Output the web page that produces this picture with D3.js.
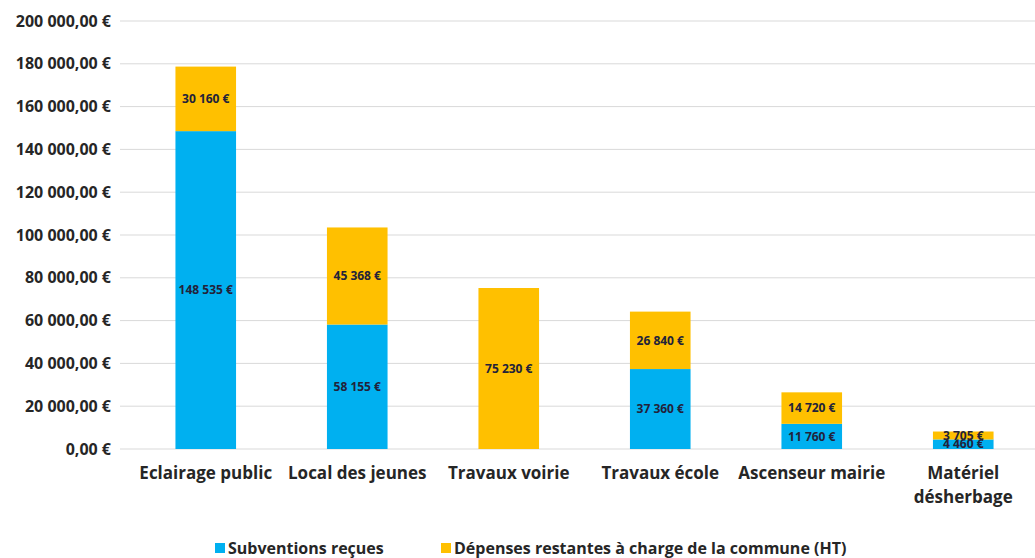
<!DOCTYPE html>
<html>
<head>
<meta charset="utf-8">
<script src="https://cdn.jsdelivr.net/npm/d3@7"></script>
<style>
  body { margin: 0; background: #fff; }
  text { font-family: "Open Sans", sans-serif; font-weight: bold; fill: #262626; }
</style>
</head>
<body>
<svg class="chart" width="1035" height="558"></svg>
<script>
// data
var categories = ['Eclairage public', 'Local des jeunes', 'Travaux voirie', 'Travaux école', 'Ascenseur mairie', 'Matériel|désherbage'];
var subventions = [148535, 58155, 0, 37360, 11760, 4460];
var depenses = [30160, 45368, 75230, 26840, 14720, 3705];
var yTicks = [0, 20000, 40000, 60000, 80000, 100000, 120000, 140000, 160000, 180000, 200000];
var seriesNames = ['Subventions reçues', 'Dépenses restantes à charge de la commune (HT)'];
var colors = ['#00B0F0', '#FFC000'];

var svg = d3.select('svg.chart');
var padding = {t: 21, r: 0, b: 109, l: 130};
var chartWidth = 1035 - padding.l - padding.r + 4;
var chartHeight = 558 - padding.t - padding.b;

var xScale = d3.scaleBand().domain(categories).range([0, chartWidth]).paddingInner(0.6).paddingOuter(0.3);
var yScale = d3.scaleLinear().domain([0, 200000]).range([chartHeight, 0]);

var chartG = svg.append('g')
  .attr('transform', 'translate(' + [padding.l, padding.t] + ')');

// french formatting: 200 000,00 €
var fmt = d3.formatLocale({decimal: ',', thousands: '\u00a0', grouping: [3], currency: ['', ' €']});
var tickFmt = function(d) { return fmt.format(',.2f')(d) + ' €'; };
var labelFmt = function(d) { return fmt.format(',')(d) + ' €'; };

// gridlines
chartG.selectAll('line.grid')
  .data(yTicks)
  .enter()
  .append('line')
  .attr('class', 'grid')
  .attr('x1', -10).attr('x2', chartWidth)
  .attr('y1', function(d) { return yScale(d); })
  .attr('y2', function(d) { return yScale(d); })
  .attr('stroke', '#d9d9d9')
  .attr('stroke-width', 1);

// y tick labels
chartG.selectAll('text.ytick')
  .data(yTicks)
  .enter()
  .append('text')
  .attr('class', 'ytick')
  .attr('x', -19)
  .attr('y', function(d) { return yScale(d); })
  .attr('dy', '0.35em')
  .attr('text-anchor', 'end')
  .style('font-size', '16px')
  .text(tickFmt);

// stacked bars
var rows = categories.map(function(c, i) {
  return {cat: c, s: subventions[i], d: depenses[i]};
});
var stack = d3.stack().keys(['s', 'd'])(rows);

var layers = chartG.selectAll('g.layer')
  .data(stack)
  .enter()
  .append('g')
  .attr('class', 'layer')
  .attr('fill', function(d, i) { return colors[i]; });

layers.selectAll('rect')
  .data(function(d) { return d; })
  .enter()
  .append('rect')
  .attr('x', function(d) { return xScale(d.data.cat); })
  .attr('width', xScale.bandwidth())
  .attr('y', function(d) { return yScale(d[1]); })
  .attr('height', function(d) { return yScale(d[0]) - yScale(d[1]); });

// data labels
layers.selectAll('text')
  .data(function(d) { return d.filter(function(p) { return p[1] - p[0] > 0; }); })
  .enter()
  .append('text')
  .attr('x', function(d) { return xScale(d.data.cat) + xScale.bandwidth() / 2; })
  .attr('y', function(d) { return (yScale(d[0]) + yScale(d[1])) / 2; })
  .attr('dy', '0.35em')
  .attr('text-anchor', 'middle')
  .style('font-size', '12px')
  .style('fill', '#22223a')
  .text(function(d) { return labelFmt(d[1] - d[0]); });

// category labels
var catText = chartG.selectAll('text.cat')
  .data(categories)
  .enter()
  .append('text')
  .attr('class', 'cat')
  .attr('x', function(d) { return xScale(d) + xScale.bandwidth() / 2; })
  .attr('y', chartHeight + 30)
  .attr('text-anchor', 'middle')
  .style('font-size', '17px');
catText.selectAll('tspan')
  .data(function(d) { return d.split('|'); })
  .enter()
  .append('tspan')
  .attr('x', function() { var p = d3.select(this.parentNode).datum(); return xScale(p) + xScale.bandwidth() / 2; })
  .attr('dy', function(d, i) { return i ? '1.4em' : 0; })
  .text(function(d) { return d; });

// legend
var legendX = [215, 441];
var legend = svg.selectAll('g.legend')
  .data(seriesNames)
  .enter()
  .append('g')
  .attr('class', 'legend')
  .attr('transform', function(d, i) { return 'translate(' + legendX[i] + ',548)'; });
legend.append('rect')
  .attr('x', 0).attr('y', -5).attr('width', 10).attr('height', 10)
  .attr('fill', function(d, i) { return colors[i]; });
legend.append('text')
  .attr('x', 13).attr('dy', '0.35em')
  .style('font-size', '16px')
  .text(function(d) { return d; });
</script>
</body>
</html>
